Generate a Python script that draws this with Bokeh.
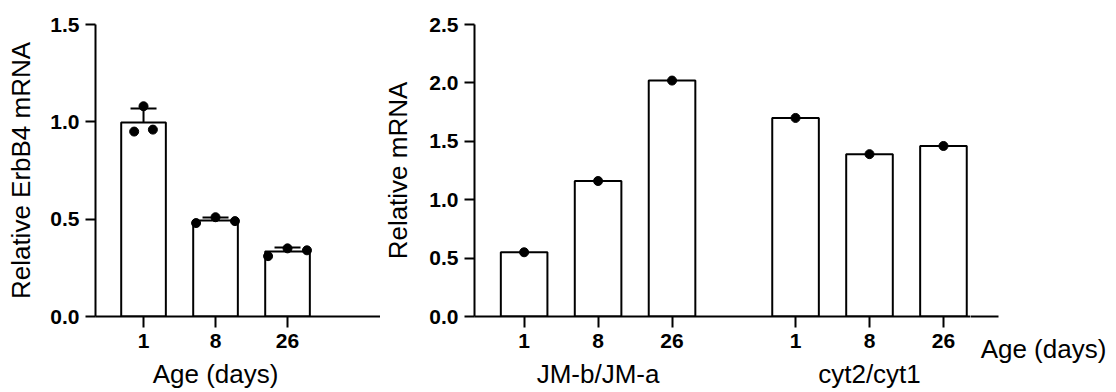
from bokeh.plotting import figure
from bokeh.layouts import row
from bokeh.models import (FixedTicker, Range1d, Whisker, ColumnDataSource, NumeralTickFormatter,
                          TeeHead, LinearAxis)
from bokeh.embed import file_html
from bokeh.resources import INLINE
import numpy as np

# ---------------- data ----------------
age_labels = ["1", "8", "26"]
# ErbB4 replicates (left / centre / right dot of each bar)
erbb4_rep_left = [0.95, 0.48, 0.31]
erbb4_rep_centre = [1.08, 0.51, 0.35]
erbb4_rep_right = [0.96, 0.49, 0.34]
group_labels = ["JM-b/JM-a", "cyt2/cyt1"]
jm_ratio = [0.55, 1.16, 2.02]
cyt_ratio = [1.70, 1.39, 1.46]
left_yticks = [0.0, 0.5, 1.0, 1.5]
right_yticks = [0.0, 0.5, 1.0, 1.5, 2.0, 2.5]
x_title = "Age (days)"

# ---------------- style / layout constants ----------------
FONT = "Liberation Sans"
LW = 2
DOT_SPREAD = [0.13, 0.27, 0.27]   # horizontal scatter of replicate dots (category units)
GROUP_GAP = 1.67                  # spacing between the two groups on the right chart
AXIS_LABEL_SIZE = "26px"
TICK_LABEL_SIZE = "21px"
H = 392
TOP = 24
BOTTOM = 76


def clean(p):
    p.xgrid.visible = False
    p.ygrid.visible = False
    p.outline_line_color = None
    p.background_fill_color = "white"
    p.border_fill_color = "white"


def style_axes(p, ylabel, label_standoff):
    clean(p)
    for ax in p.axis:
        ax.axis_line_width = LW
        ax.axis_line_color = "black"
        ax.major_tick_line_width = LW
        ax.major_tick_line_color = "black"
        ax.minor_tick_line_color = None
        ax.major_tick_in = 0
        ax.major_label_text_font = FONT
        ax.major_label_text_font_size = TICK_LABEL_SIZE
        ax.major_label_text_font_style = "bold"
        ax.major_label_text_color = "black"
        ax.axis_label_text_font = FONT
        ax.axis_label_text_font_size = AXIS_LABEL_SIZE
        ax.axis_label_text_font_style = "normal"
        ax.axis_label_text_color = "black"
    p.xaxis.major_tick_out = 11
    p.xaxis.major_label_standoff = 6
    p.yaxis.major_tick_out = 10
    p.yaxis.major_label_standoff = 6
    p.yaxis.axis_label = ylabel
    p.yaxis.axis_label_standoff = label_standoff
    p.yaxis.formatter = NumeralTickFormatter(format="0.0")


def text_axis(ticks, labels, standoff):
    return LinearAxis(ticker=FixedTicker(ticks=list(ticks)),
                      major_label_overrides={float(t): lab for t, lab in zip(ticks, labels)},
                      axis_line_color=None, major_tick_line_color=None, minor_tick_line_color=None,
                      major_tick_in=0, major_tick_out=0, major_label_standoff=standoff,
                      major_label_text_font=FONT, major_label_text_font_size=AXIS_LABEL_SIZE,
                      major_label_text_font_style="normal", major_label_text_color="black")


# ---------------- left chart ----------------
lx = np.arange(1, len(age_labels) + 1, dtype=float)
reps = np.array([erbb4_rep_left, erbb4_rep_centre, erbb4_rep_right])
means = reps.mean(axis=0)
sds = reps.std(axis=0, ddof=1)

SPLIT1 = 380                     # page x where the left chart ends
p1 = figure(width=SPLIT1, height=H, output_backend="svg", toolbar_location=None,
            x_range=Range1d(0.333, 0.333 + (SPLIT1 - 95) / 72), y_range=Range1d(0, 1.5),
            min_border_left=95, min_border_right=0, min_border_top=TOP, min_border_bottom=BOTTOM)
style_axes(p1, "Relative ErbB4 mRNA", 11)
p1.yaxis.ticker = FixedTicker(ticks=left_yticks)
p1.xaxis.ticker = FixedTicker(ticks=list(lx))
p1.xaxis.major_label_overrides = {float(v): lab for v, lab in zip(lx, age_labels)}
p1.add_layout(text_axis([lx.mean()], [x_title], 8), "below")

p1.vbar(x=lx, top=means, width=0.62, fill_color="white", line_color="black", line_width=LW)
src = ColumnDataSource(dict(x=lx, upper=means + sds, lower=means - sds))
w = Whisker(source=src, base="x", upper="upper", lower="lower", line_color="black", line_width=LW,
            upper_head=TeeHead(size=26, line_width=LW, line_color="black"),
            lower_head=TeeHead(size=26, line_width=LW, line_color="black"))
p1.add_layout(w)
dx, dy = [], []
for i in range(len(lx)):
    for k, off in enumerate([-1, 0, 1]):
        dx.append(lx[i] + off * DOT_SPREAD[i])
        dy.append(reps[k, i])
p1.scatter(dx, dy, size=9, color="black")

# ---------------- right chart ----------------
n = len(age_labels)
rx_jm = np.arange(1, n + 1, dtype=float)
rx_cyt = rx_jm + n - 1 + GROUP_GAP
rx = np.concatenate([rx_jm, rx_cyt])
rvals = list(jm_ratio) + list(cyt_ratio)

SPLIT2 = 970                     # page x where the right chart hands over to the title strip
W2 = SPLIT2 - SPLIT1
LEFT2 = 467 - SPLIT1
x0 = 0.329
p2 = figure(width=W2, height=H, output_backend="svg", toolbar_location=None,
            x_range=Range1d(x0, x0 + (W2 - LEFT2) / 75), y_range=Range1d(0, 2.5),
            min_border_left=LEFT2, min_border_right=0, min_border_top=TOP, min_border_bottom=BOTTOM)
style_axes(p2, "Relative mRNA", 13)
p2.yaxis.ticker = FixedTicker(ticks=right_yticks)
p2.xaxis.ticker = FixedTicker(ticks=list(rx))
p2.xaxis.major_label_overrides = {float(v): lab for v, lab in zip(rx, age_labels * 2)}
p2.add_layout(text_axis([rx_jm.mean(), rx_cyt.mean()], group_labels, 8), "below")

p2.vbar(x=rx, top=rvals, width=0.63, fill_color="white", line_color="black", line_width=LW)
p2.scatter(rx, rvals, size=9, color="black")

# ---------------- right-hand strip: end of the x axis line + "Age (days)" title ----------------
W3 = 1116 - SPLIT2
p3 = figure(width=W3, height=H, output_backend="svg", toolbar_location=None,
            x_range=Range1d(0, W3), y_range=Range1d(0, 1), y_axis_location=None,
            min_border_left=0, min_border_right=0, min_border_top=TOP, min_border_bottom=BOTTOM)
clean(p3)
ax3 = p3.xaxis[0]
ax3.ticker = FixedTicker(ticks=[73.0])
ax3.major_label_overrides = {73.0: x_title}
ax3.bounds = (0, 28)
ax3.axis_line_width = LW
ax3.axis_line_color = "black"
ax3.major_tick_line_color = None
ax3.minor_tick_line_color = None
ax3.major_tick_in = 0
ax3.major_tick_out = 0
ax3.major_label_standoff = 17
ax3.major_label_text_font = FONT
ax3.major_label_text_font_size = AXIS_LABEL_SIZE
ax3.major_label_text_font_style = "normal"
ax3.major_label_text_color = "black"

layout = row(p1, p2, p3, spacing=0)
open("out.html", "w").write(file_html(layout, INLINE))
